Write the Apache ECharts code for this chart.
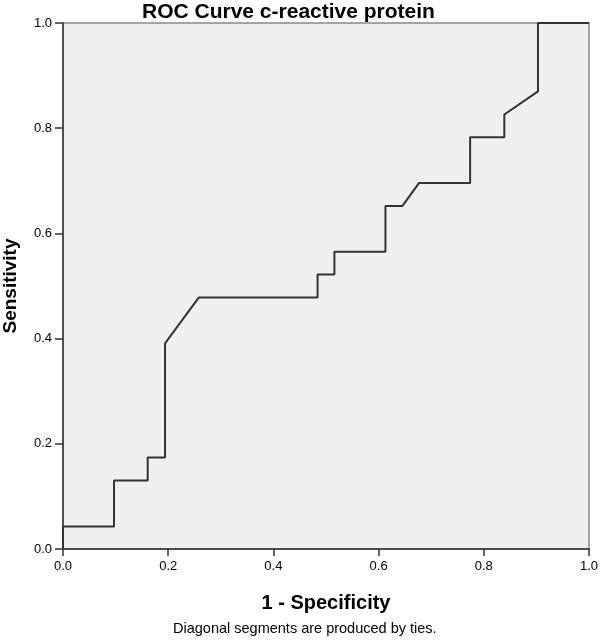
<!DOCTYPE html>
<html><head><meta charset="utf-8">
<script src="https://cdn.jsdelivr.net/npm/echarts@6/dist/echarts.min.js"></script>
<style>html,body{margin:0;padding:0;background:#fff}#c{width:600px;height:641px}</style>
</head><body><div id="c"></div>
<script>
const fpr = [0, 0, 0.097, 0.097, 0.161, 0.161, 0.194, 0.194, 0.258, 0.484, 0.484, 0.516, 0.516, 0.613, 0.613, 0.645, 0.677, 0.774, 0.774, 0.839, 0.839, 0.903, 0.903, 1.0];
const tpr = [0, 0.043, 0.043, 0.130, 0.130, 0.174, 0.174, 0.391, 0.478, 0.478, 0.522, 0.522, 0.565, 0.565, 0.652, 0.652, 0.696, 0.696, 0.783, 0.783, 0.826, 0.870, 1.0, 1.0];
const tickLabels = ['0.0','0.2','0.4','0.6','0.8','1.0'];
const titleText = 'ROC Curve c-reactive protein';
const xName = '1 - Specificity';
const yName = 'Sensitivity';
const footnote = 'Diagonal segments are produced by ties.';

const data = fpr.map((x, i) => [x, tpr[i]]);
const font = '"Liberation Sans", Arial, sans-serif';
const chart = echarts.init(document.getElementById('c'));
const fmt = v => tickLabels[Math.round(v * 5)];
chart.setOption({
  animation: false,
  title: [
    { text: titleText, left: 137, top: -3, textStyle: { fontFamily: font, fontSize: 21, fontWeight: 'bold', color: '#000' } },
    { text: footnote, left: 168, top: 616, textStyle: { fontFamily: font, fontSize: 14.5, fontWeight: 'normal', color: '#000' } }
  ],
  grid: { left: 63, right: 11, top: 23, bottom: 92, show: true, backgroundColor: '#f0f0f0', borderColor: '#888', borderWidth: 1.5, containLabel: false, outerBoundsMode: 'none' },
  xAxis: {
    type: 'value', min: 0, max: 1, interval: 0.2,
    name: xName, nameLocation: 'middle', nameGap: 44,
    nameTextStyle: { fontFamily: font, fontSize: 20, fontWeight: 'bold', color: '#000' },
    axisLine: { show: true, lineStyle: { color: '#333', width: 1.5 } },
    axisTick: { show: true, length: 7, lineStyle: { color: '#333', width: 1.5 } },
    axisLabel: { fontFamily: font, fontSize: 13, color: '#000', margin: 11, formatter: fmt },
    splitLine: { show: false }
  },
  yAxis: {
    type: 'value', min: 0, max: 1, interval: 0.2,
    name: yName, nameLocation: 'middle', nameGap: 43,
    nameTextStyle: { fontFamily: font, fontSize: 19, fontWeight: 'bold', color: '#000' },
    axisLine: { show: true, lineStyle: { color: '#333', width: 1.5 } },
    axisTick: { show: true, length: 8, lineStyle: { color: '#333', width: 1.5 } },
    axisLabel: { fontFamily: font, fontSize: 13, color: '#000', margin: 11, formatter: fmt },
    splitLine: { show: false }
  },
  series: [{
    type: 'line', data: data, showSymbol: false, symbol: 'none',
    lineStyle: { color: '#333', width: 2 }, clip: false
  }]
});
</script></body></html>
